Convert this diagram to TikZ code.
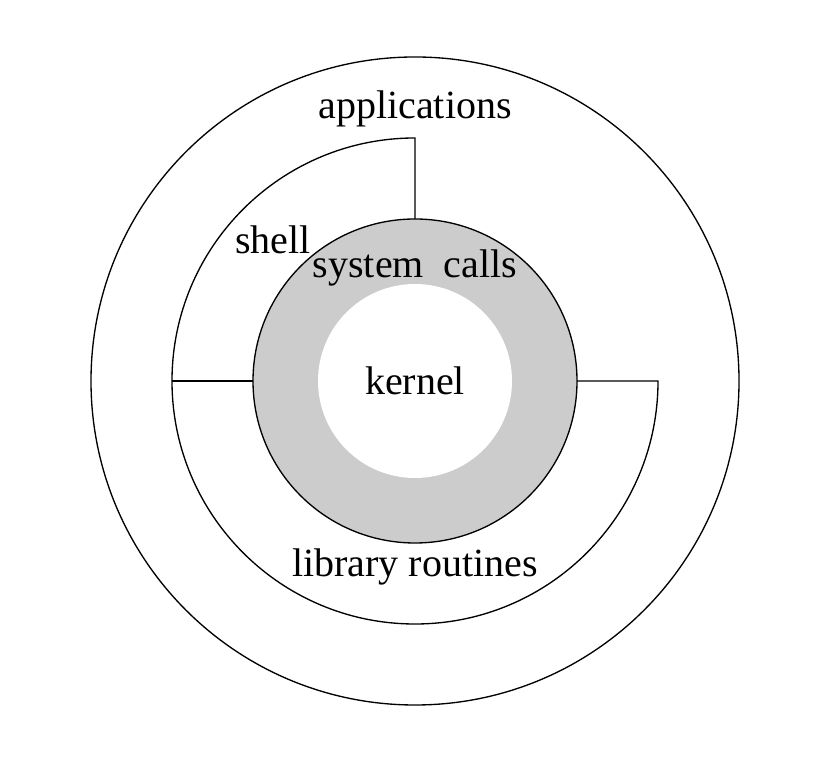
\documentclass[tikz,border=0pt]{standalone}
\usepackage{fontspec}
\setmainfont{Liberation Serif}
\usepackage{tikz}
\usetikzlibrary{calc}

\tikzset{
  ring/.style={draw=black, line width=0.4pt},
  label/.style={inner sep=0pt, font=\fontsize{12}{13}\selectfont}
}

\begin{document}
\begin{tikzpicture}[x=0.3pt, y=0.3pt]
\def \rout {324}
\def \rmid {243}
\def \rsys {162}
\def \rker {97}
\useasboundingbox (-415,-393) rectangle (413,381);

% outer ring
\draw[ring] (0,0) circle (\rout);
% three quarter ring (shell and library routines)
\draw[ring] (0,\rsys) -- (0,\rmid) arc (90:360:\rmid) -- (\rsys,0);
\draw[ring] (-\rmid,0) -- (-\rsys,0);
% system calls and kernel
\draw[ring, fill=black!20] (0,0) circle (\rsys);
\fill[white] (0,0) circle (\rker);

\node[label] (apps) at (0,272) {applications};
\node[label] (shell) at (-142,141) {shell};
\node[label] (sys) at (0,113) {system~~calls};
\node[label] (kernel) at (0,0) {kernel};
\node[label] (lib) at (0,-186) {library routines};
\end{tikzpicture}
\end{document}
